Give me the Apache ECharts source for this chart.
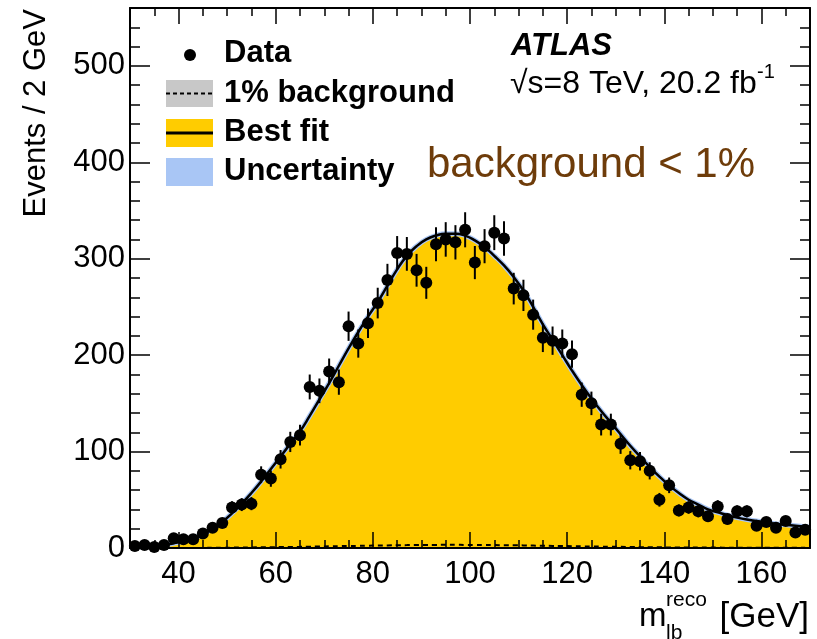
<!DOCTYPE html>
<html>
<head>
<meta charset="utf-8">
<script src="https://cdn.jsdelivr.net/npm/echarts@6/dist/echarts.min.js"></script>
<style>
html,body{margin:0;padding:0;background:#fff;}
#chart{width:817px;height:639px;}
</style>
</head>
<body>
<div id="chart"></div>
<script>
// ---- data ----
const binCenters = [31,33,35,37,39,41,43,45,47,49,51,53,55,57,59,61,63,65,67,69,71,73,75,77,79,81,83,85,87,89,91,93,95,97,99,101,103,105,107,109,111,113,115,117,119,121,123,125,127,129,131,133,135,137,139,141,143,145,147,149,151,153,155,157,159,161,163,165,167,169];
const dataEvents = [2,3,1,3,10,9,9,15,21,26,42,45,46,76,72,92,110,117,167,163,183,172,230,212,233,254,278,306,305,288,275,315,320,317,330,296,313,327,321,269,262,242,218,215,212,201,159,150,128,128,108,91,90,80,50,65,39,42,38,33,43,30,38,38,23,27,21,28,16,19];
const dataErrors = [1.4,1.7,1,1.7,3.2,3,3,3.9,4.6,5.1,6.5,6.7,6.8,8.7,8.5,9.6,10.5,10.8,12.9,12.8,13.5,13.1,15.2,14.6,15.3,15.9,16.7,17.5,17.5,17,16.6,17.7,17.9,17.8,18.2,17.2,17.7,18.1,17.9,16.4,16.2,15.6,14.8,14.7,14.6,14.2,12.6,12.2,11.3,11.3,10.4,9.5,9.5,8.9,7.1,8.1,6.2,6.5,6.2,5.7,6.6,5.5,6.2,6.2,4.8,5.2,4.6,5.3,4,4.4];
const fitMass = [30,31,33,35,37,39,41,43,45,47,49,51,53,55,57,59,61,63,65,67,69,71,73,75,77,79,81,83,85,87,89,91,93,95,97,99,101,103,105,107,109,111,113,115,117,119,121,123,125,127,129,131,133,135,137,139,141,143,145,147,149,151,153,155,157,159,161,163,165,167,169,170];
const fitValues = [1,1,1.5,2,3,5,7,10,14,20,27,36,46,57,69,82,95,108,121,137,154,171,189,207,224,240,255,272,289,303,313,320,324,326,326,324,319,312,303,293,281,267,250,232,216,200,184,169,155,142,130,118,106,95,84,74,65,57,50,45,40,37,34,31.5,29.5,28,26.5,25,24,23,22,21.5];
const bgValues = [0,0,0,0,0.1,0.1,0.1,0.1,0.2,0.3,0.4,0.5,0.6,0.7,0.8,1,1.1,1.2,1.4,1.5,1.7,1.9,2.1,2.2,2.4,2.6,2.7,2.9,3,3.1,3.2,3.2,3.3,3.3,3.2,3.2,3.1,3,2.9,2.8,2.7,2.5,2.3,2.2,2,1.9,1.7,1.6,1.4,1.3,1.2,1.1,0.9,0.8,0.7,0.6,0.5,0.5,0.4,0.4,0.4,0.3,0.3,0.3,0.3,0.3,0.3,0.2,0.2,0.2];
const xMajorTicks = [40,60,80,100,120,140,160];
const xMinorTicks = [35,40,45,50,55,60,65,70,75,80,85,90,95,100,105,110,115,120,125,130,135,140,145,150,155,160,165];
const yMajorTicks = [0,100,200,300,400,500];
const yMinorTicks = [20,40,60,80,120,140,160,180,220,240,260,280,320,340,360,380,420,440,460,480,520,540];
const legendLabels = ['Data','1% background','Best fit','Uncertainty'];

const FONT = '"Liberation Sans", Arial, Helvetica, sans-serif';
const YELLOW = '#FFCC00';
const BLUE = '#A9C6F5';

function xAxisDef(pos, ticks, len, labels, line) {
  return {
    type:'value', min:30, max:170, position:pos, gridIndex:0, offset:0, z:10,
    axisLine:{show:line, onZero:false, lineStyle:{color:'#000', width:2}},
    axisTick:{show:true, inside:true, length:len, customValues:ticks, lineStyle:{color:'#000', width:1.5}},
    axisLabel:{show:labels, customValues:xMajorTicks, fontSize:31, fontFamily:FONT, color:'#000', margin:11},
    splitLine:{show:false}, minorTick:{show:false}
  };
}
function yAxisDef(pos, ticks, len, labels, line) {
  return {
    type:'value', min:0, max:560, position:pos, gridIndex:0, offset:0, z:10,
    axisLine:{show:line, onZero:false, lineStyle:{color:'#000', width:2}},
    axisTick:{show:true, inside:true, length:len, customValues:ticks, lineStyle:{color:'#000', width:1.5}},
    axisLabel:{show:labels, customValues:yMajorTicks, fontSize:31, fontFamily:FONT, color:'#000', margin:5},
    splitLine:{show:false}, minorTick:{show:false}
  };
}

const chart = echarts.init(document.getElementById('chart'), null, {renderer:'canvas'});

const legendY = [53, 93, 132, 171];

const option = {
  animation:false,
  backgroundColor:'#fff',
  grid:{left:130, right:7, top:8, bottom:91, show:false},
  xAxis:[
    xAxisDef('bottom', xMajorTicks, 16, true, true),
    xAxisDef('bottom', xMinorTicks, 8, false, false),
    xAxisDef('top', xMajorTicks, 16, false, true),
    xAxisDef('top', xMinorTicks, 8, false, false)
  ],
  yAxis:[
    yAxisDef('left', yMajorTicks, 20, true, true),
    yAxisDef('left', yMinorTicks, 10, false, false),
    yAxisDef('right', yMajorTicks, 20, false, true),
    yAxisDef('right', yMinorTicks, 10, false, false)
  ],
  series:[
    {
      name:'Best fit area', type:'line', xAxisIndex:0, yAxisIndex:0,
      data: fitMass.map((x,i)=>[x, fitValues[i]]),
      smooth:true, symbol:'none',
      lineStyle:{color:BLUE, width:5},
      areaStyle:{color:YELLOW, opacity:1},
      z:2
    },
    {
      name:'1% background', type:'line', xAxisIndex:0, yAxisIndex:0,
      data: binCenters.map((x,i)=>[x, bgValues[i]]),
      smooth:true, symbol:'none',
      lineStyle:{color:'#000', width:2, type:[5,4]},
      z:3
    },
    {
      name:'Best fit', type:'line', xAxisIndex:0, yAxisIndex:0,
      data: fitMass.map((x,i)=>[x, fitValues[i]]),
      smooth:true, symbol:'none',
      lineStyle:{color:'#000', width:2.5},
      z:4
    },
    {
      name:'Data errors', type:'custom', xAxisIndex:0, yAxisIndex:0,
      data: binCenters.map((x,i)=>[x, dataEvents[i], dataErrors[i]]),
      renderItem:function(params, api){
        const x = api.value(0), y = api.value(1), e = api.value(2);
        const p1 = api.coord([x, y - e]);
        const p2 = api.coord([x, y + e]);
        return {type:'line', shape:{x1:p1[0], y1:p1[1], x2:p2[0], y2:p2[1]},
                style:{stroke:'#000', lineWidth:2}};
      },
      z:5, clip:false
    },
    {
      name:'Data', type:'scatter', xAxisIndex:0, yAxisIndex:0,
      data: binCenters.map((x,i)=>[x, dataEvents[i]]),
      symbol:'circle', symbolSize:12,
      itemStyle:{color:'#000', opacity:1},
      z:6, clip:false
    }
  ],
  graphic:[
    // y axis title
    {type:'text', x:36, y:9, rotation:Math.PI/2,
     style:{text:'Events / 2 GeV', font:'31px ' + FONT, fill:'#000', align:'right', verticalAlign:'middle'}},
    // x axis title
    {type:'text', x:639, y:617,
     style:{text:'m', font:'33px ' + FONT, fill:'#000', align:'left', verticalAlign:'middle'}},
    {type:'text', x:666, y:600,
     style:{text:'reco', font:'21px ' + FONT, fill:'#000', align:'left', verticalAlign:'middle'}},
    {type:'text', x:666, y:633,
     style:{text:'lb', font:'21px ' + FONT, fill:'#000', align:'left', verticalAlign:'middle'}},
    {type:'text', x:809, y:617,
     style:{text:'[GeV]', font:'35px ' + FONT, fill:'#000', align:'right', verticalAlign:'middle'}},
    // legend
    {type:'circle', shape:{cx:190, cy:55, r:6}, style:{fill:'#000'}},
    {type:'rect', shape:{x:166, y:80, width:47, height:27}, style:{fill:'#C8C8C8'}},
    {type:'line', shape:{x1:166, y1:93.5, x2:213, y2:93.5}, style:{stroke:'#000', lineWidth:2, lineDash:[4,3]}},
    {type:'rect', shape:{x:166, y:119, width:47, height:28}, style:{fill:YELLOW}},
    {type:'line', shape:{x1:166, y1:133, x2:213, y2:133}, style:{stroke:'#000', lineWidth:3}},
    {type:'rect', shape:{x:166, y:158, width:47, height:28}, style:{fill:BLUE}},
    {type:'text', x:224, y:legendY[0], style:{text:legendLabels[0], font:'bold 31px ' + FONT, fill:'#000', verticalAlign:'middle'}},
    {type:'text', x:224, y:legendY[1], style:{text:legendLabels[1], font:'bold 31px ' + FONT, fill:'#000', verticalAlign:'middle'}},
    {type:'text', x:224, y:legendY[2], style:{text:legendLabels[2], font:'bold 31px ' + FONT, fill:'#000', verticalAlign:'middle'}},
    {type:'text', x:224, y:legendY[3], style:{text:legendLabels[3], font:'bold 31px ' + FONT, fill:'#000', verticalAlign:'middle'}},
    // ATLAS label
    {type:'text', x:511, y:46, style:{text:'ATLAS', font:'italic bold 31px ' + FONT, fill:'#000', verticalAlign:'middle'}},
    {type:'text', x:510, y:84, style:{text:'\u221As=8 TeV, 20.2 fb', font:'32px ' + FONT, fill:'#000', verticalAlign:'middle'}},
    {type:'text', x:757, y:72, style:{text:'-1', font:'20px ' + FONT, fill:'#000', verticalAlign:'middle'}},
    // annotation
    {type:'text', x:427, y:165, style:{text:'background < 1%', font:'42px ' + FONT, fill:'#6E3C0A', verticalAlign:'middle'}}
  ]
};
chart.setOption(option);
</script>
</body>
</html>
